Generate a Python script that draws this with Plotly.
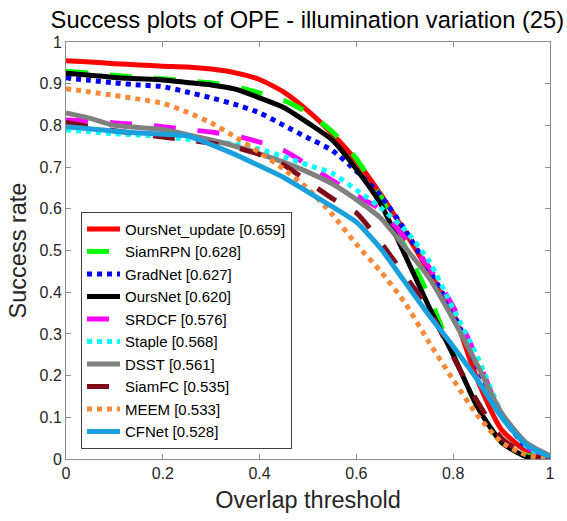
import plotly.graph_objects as go

thresholds = [0, .05, .1, .15, .2, .25, .3, .35, .4, .45, .5, .55, .6, .65, .7, .75, .8, .85, .9, .95, 1]

names = ["OursNet_update [0.659]", "SiamRPN [0.628]", "GradNet [0.627]", "OursNet [0.620]",
         "SRDCF [0.576]", "Staple [0.568]", "DSST [0.561]", "SiamFC [0.535]",
         "MEEM [0.533]", "CFNet [0.528]"]

ours_update = [0.955, 0.952, 0.948, 0.945, 0.942, 0.94, 0.935, 0.926, 0.91, 0.88, 0.835, 0.78, 0.715, 0.635, 0.545, 0.45, 0.35, 0.19, 0.07, 0.02, 0.0]
siamrpn = [0.93, 0.925, 0.92, 0.915, 0.912, 0.907, 0.902, 0.893, 0.878, 0.86, 0.83, 0.785, 0.72, 0.63, 0.51, 0.39, 0.25, 0.125, 0.04, 0.01, 0.0]
gradnet = [0.914, 0.908, 0.902, 0.897, 0.893, 0.88, 0.866, 0.85, 0.83, 0.8, 0.77, 0.74, 0.69, 0.632, 0.55, 0.455, 0.35, 0.22, 0.105, 0.03, 0.0]
oursnet = [0.925, 0.92, 0.915, 0.912, 0.909, 0.903, 0.897, 0.887, 0.866, 0.843, 0.806, 0.765, 0.695, 0.612, 0.49, 0.365, 0.25, 0.125, 0.04, 0.006, 0.0]
srdcf = [0.813, 0.81, 0.806, 0.802, 0.797, 0.79, 0.784, 0.775, 0.76, 0.74, 0.705, 0.668, 0.632, 0.598, 0.53, 0.46, 0.365, 0.24, 0.105, 0.03, 0.0]
staple = [0.789, 0.785, 0.78, 0.777, 0.773, 0.767, 0.762, 0.755, 0.743, 0.725, 0.705, 0.685, 0.645, 0.603, 0.55, 0.475, 0.36, 0.245, 0.111, 0.032, 0.0]
dsst = [0.83, 0.817, 0.8, 0.795, 0.79, 0.778, 0.765, 0.75, 0.732, 0.712, 0.688, 0.66, 0.622, 0.578, 0.508, 0.435, 0.335, 0.225, 0.11, 0.04, 0.008]
siamfc = [0.807, 0.797, 0.787, 0.78, 0.772, 0.765, 0.757, 0.747, 0.73, 0.705, 0.665, 0.625, 0.59, 0.52, 0.44, 0.36, 0.245, 0.138, 0.05, 0.01, 0.0]
meem = [0.888, 0.88, 0.872, 0.863, 0.853, 0.832, 0.806, 0.772, 0.735, 0.695, 0.648, 0.587, 0.515, 0.45, 0.375, 0.28, 0.19, 0.105, 0.04, 0.01, 0.0]
cfnet = [0.797, 0.792, 0.786, 0.782, 0.779, 0.775, 0.754, 0.73, 0.703, 0.675, 0.64, 0.605, 0.568, 0.505, 0.425, 0.345, 0.27, 0.19, 0.1, 0.035, 0.005]

series = [ours_update, siamrpn, gradnet, oursnet, srdcf, staple, dsst, siamfc, meem, cfnet]
colors = ["#ff0000", "#00ff00", "#0000ff", "#000000", "#ff00ff", "#00ffff", "#808080", "#7f0a1a", "#f98a3a", "#1aa0dc"]
dashes = ["solid", "22px,22px", "5px,5px", "solid", "22px,22px", "5px,5px", "solid", "22px,22px", "5px,5px", "solid"]

fig = go.Figure()
for n, s, c, d in zip(names, series, colors, dashes):
    fig.add_trace(go.Scatter(x=thresholds, y=s, mode="lines", name=n,
                             line=dict(color=c, width=5, dash=d, shape="spline", smoothing=0.6)))

axis_common = dict(range=[0, 1], showline=True, linecolor="#8c8c8c", linewidth=1, mirror="ticks",
                   ticks="inside", ticklen=5, tickcolor="#8c8c8c", showgrid=False, zeroline=False,
                   tickfont=dict(size=16, color="#262626"))

fig.update_layout(
    width=567, height=521,
    margin=dict(l=66, r=15, t=42, b=61),
    paper_bgcolor="white", plot_bgcolor="white",
    font=dict(family="Liberation Sans, Arial", color="#262626"),
    title=dict(text="Success plots of OPE - illumination variation (25)", x=0.542, xanchor="center",
               y=0.962, yanchor="middle", font=dict(size=23.7, color="#000000")),
    xaxis=dict(**axis_common, tickvals=[0, 0.2, 0.4, 0.6, 0.8, 1], ticktext=["0", "0.2", "0.4", "0.6", "0.8", "1"],
               title=dict(text="Overlap threshold", font=dict(size=23.5, color="#262626"), standoff=10)),
    yaxis=dict(**axis_common, tickvals=[i / 10 for i in range(11)],
               ticktext=["0"] + [f"{i/10:.1f}" for i in range(1, 10)] + ["1"],
               title=dict(text="Success rate", font=dict(size=23.5, color="#262626"), standoff=6)),
    legend=dict(x=0.031, y=0.593, xanchor="left", yanchor="top", bgcolor="white",
                bordercolor="#404040", borderwidth=1, font=dict(size=15, color="#000000"),
                itemwidth=33, tracegroupgap=0),
    showlegend=True,
)

fig.write_html("out.html")
